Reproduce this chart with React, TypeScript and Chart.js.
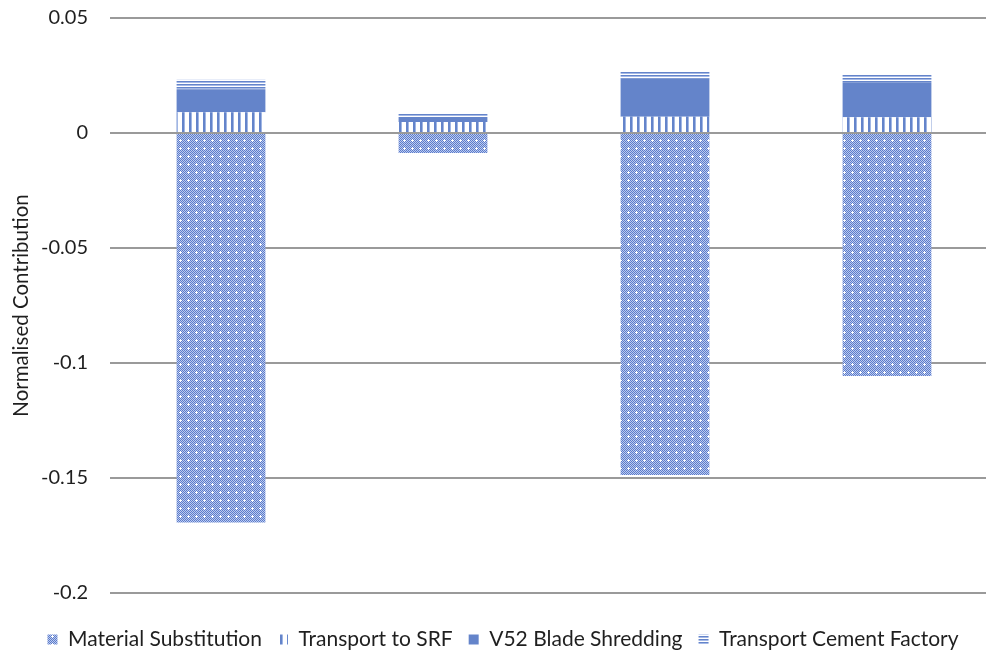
import React, { useEffect, useRef } from "react";
import { Chart, registerables } from "chart.js";

Chart.register(...registerables);

// Stacked contributions per scenario (x labels are not shown)
const categories = ["", "", "", ""];
const materialSubstitution = [-0.1693, -0.0087, -0.1487, -0.1057];
const transportToSRF = [0.009, 0.0048, 0.0071, 0.0068];
const bladeShredding = [0.01, 0.0022, 0.0167, 0.0153];
const transportCementFactory = [0.0041, 0.0017, 0.0027, 0.0032];

const seriesNames = [
  "Material Substitution",
  "Transport to SRF",
  "V52 Blade Shredding",
  "Transport Cement Factory",
];

const yTicks = [0.05, 0, -0.05, -0.1, -0.15, -0.2];
const yTitle = "Normalised Contribution";

const BLUE = "rgb(100,132,202)";

function tile(w: number, h: number, draw: (g: CanvasRenderingContext2D) => void) {
  const c = document.createElement("canvas");
  c.width = w;
  c.height = h;
  const g = c.getContext("2d")!;
  draw(g);
  return c;
}

function makePatterns(ctx: CanvasRenderingContext2D) {
  // fine checkerboard with a small white cross every 8px
  const check = tile(8, 8, (g) => {
    g.fillStyle = "rgb(188,203,240)";
    g.fillRect(0, 0, 8, 8);
    g.fillStyle = "rgb(92,124,202)";
    for (let x = 0; x < 8; x++)
      for (let y = 0; y < 8; y++) if ((x + y) % 2 === 0) g.fillRect(x, y, 1, 1);
    g.fillStyle = "#ffffff";
    g.fillRect(3, 4, 3, 1);
    g.fillRect(4, 3, 1, 3);
  });
  // vertical stripes
  const vert = tile(7, 7, (g) => {
    g.fillStyle = "#ffffff";
    g.fillRect(0, 0, 7, 7);
    g.fillStyle = "rgb(100,132,202)";
    g.fillRect(0, 0, 2, 7);
    g.fillStyle = "rgb(160,182,228)";
    g.fillRect(2, 0, 1, 7);
  });
  // horizontal stripes
  const horiz = tile(4, 3, (g) => {
    g.fillStyle = "#ffffff";
    g.fillRect(0, 0, 4, 3);
    g.fillStyle = "rgb(100,132,202)";
    g.fillRect(0, 0, 4, 1);
    g.fillStyle = "rgb(165,185,230)";
    g.fillRect(0, 1, 4, 1);
  });
  return {
    check: ctx.createPattern(check, "repeat")!,
    vert: ctx.createPattern(vert, "repeat")!,
    horiz: ctx.createPattern(horiz, "repeat")!,
  };
}

export default function App() {
  const ref = useRef<HTMLCanvasElement | null>(null);

  useEffect(() => {
    const canvas = ref.current;
    if (!canvas) return;
    const ctx = canvas.getContext("2d")!;
    const p = makePatterns(ctx);
    const textColor = "#1f1f1f";

    const chart = new Chart(ctx, {
      type: "bar",
      data: {
        labels: categories,
        datasets: [
          { label: seriesNames[0], data: materialSubstitution, backgroundColor: p.check },
          { label: seriesNames[1], data: transportToSRF, backgroundColor: p.vert },
          { label: seriesNames[2], data: bladeShredding, backgroundColor: BLUE },
          { label: seriesNames[3], data: transportCementFactory, backgroundColor: p.horiz },
        ],
      },
      options: {
        animation: false,
        responsive: false,
        maintainAspectRatio: false,
        layout: { padding: { top: 18, left: 8, right: 0, bottom: 0 } },
        datasets: {
          bar: { categoryPercentage: 1, barPercentage: 0.4, borderWidth: 0 },
        },
        scales: {
          x: {
            stacked: true,
            grid: { display: false },
            border: { display: false },
            ticks: { display: false },
            afterFit: (s: any) => {
              s.height = 20;
            },
          },
          y: {
            stacked: true,
            min: -0.2,
            max: 0.05,
            afterBuildTicks: (s: any) => {
              s.ticks = [...yTicks].sort((a, b) => a - b).map((v) => ({ value: v }));
            },
            afterFit: (s: any) => {
              s.width = 102;
              s.paddingTop = 0;
              s.paddingBottom = 0;
            },
            grid: { color: "#9a9a9a", lineWidth: 2, drawTicks: false },
            border: { display: false },
            ticks: {
              padding: 22,
              color: textColor,
              font: { family: "Lato", size: 20 },
              callback: (v: any) => String(+Number(v).toFixed(2)),
            },
            title: {
              display: true,
              text: yTitle,
              color: textColor,
              font: { family: "Lato", size: 20.5 },
              padding: { top: 1, bottom: 0 },
            },
          },
        },
        plugins: {
          legend: {
            position: "bottom",
            labels: {
              boxWidth: 10,
              boxHeight: 10,
              padding: 16,
              color: textColor,
              font: { family: "Lato", size: 21 },
            },
          },
          tooltip: { enabled: false },
        },
      },
    });
    return () => chart.destroy();
  }, []);

  return (
    <div
      style={{
        position: "fixed",
        left: 0,
        top: 0,
        width: 986,
        height: 652,
        overflow: "hidden",
        background: "#ffffff",
      }}
    >
      <canvas ref={ref} width={998} height={660} style={{ display: "block" }} />
    </div>
  );
}
